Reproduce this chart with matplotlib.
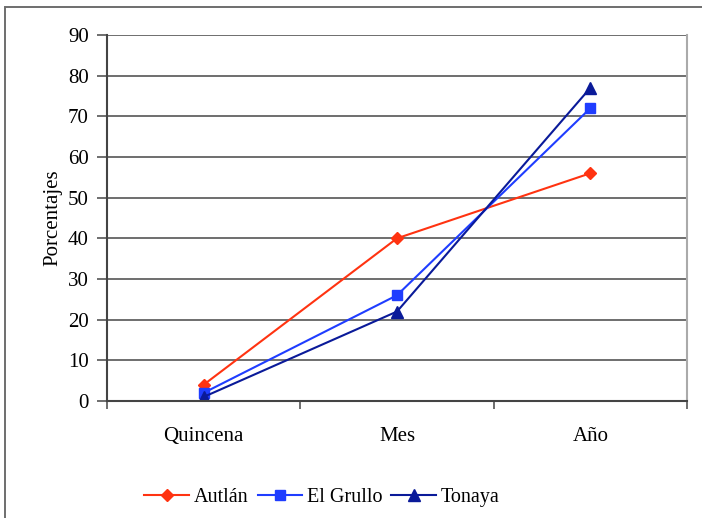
import matplotlib.pyplot as plt
from matplotlib.patches import Rectangle

plt.rcParams["font.family"] = "Liberation Serif"

# Periods and percentage of each town
periodos = ["Quincena", "Mes", "Año"]
autlan = [4, 40, 56]
el_grullo = [2, 26, 72]
tonaya = [1, 22, 77]

fig = plt.figure(figsize=(7.02, 5.18), dpi=100)
ax = fig.add_axes([107 / 702, 1 - 401 / 518, 580 / 702, 366 / 518])

# Outer chart frame (only top and left edges fall inside the image)
fig.patches.append(Rectangle((5 / 702, -0.1), 1.2, 1 - 7 / 518 + 0.1,
                             transform=fig.transFigure, fill=False,
                             edgecolor="#6e6e6e", linewidth=1.4))

x = range(len(periodos))
ax.plot(x, autlan, color="#ff3311", marker="D", markersize=6, linewidth=1.5,
        label="Autlán")
ax.plot(x, el_grullo, color="#1f3dff", marker="s", markersize=7, linewidth=1.5,
        label="El Grullo")
ax.plot(x, tonaya, color="#0a1a99", marker="^", markersize=8, linewidth=1.5,
        label="Tonaya")

ax.set_xlim(-0.5, 2.5)
ax.set_ylim(0, 90)
ax.set_yticks(range(0, 91, 10))
ax.set_xticks([-0.5, 0.5, 1.5, 2.5])
ax.set_xticklabels([])
ax.set_xticks(list(x), minor=True)
ax.set_xticklabels(periodos, minor=True, fontsize=15)
ax.tick_params(axis="x", which="minor", length=0, pad=19)
ax.tick_params(axis="x", which="major", direction="out", length=6,
               color="#555555", width=1.2)
ax.tick_params(axis="y", direction="out", length=7, color="#555555",
               width=1.2, labelsize=15, pad=6)

ax.grid(axis="y", color="#555555", linewidth=1.2)
ax.set_axisbelow(True)
for side in ["left", "bottom"]:
    ax.spines[side].set_color("#444444")
    ax.spines[side].set_linewidth(1.5)
ax.spines["top"].set_visible(False)
ax.spines["right"].set_color("#aaaaaa")
ax.spines["right"].set_linewidth(1.5)

ax.set_ylabel("Porcentajes", fontsize=15, labelpad=4)

fig.legend(loc="center", bbox_to_anchor=(322 / 702, 1 - 497 / 518), ncol=3,
           frameon=False, fontsize=14.5, handlelength=2.2, columnspacing=0.45,
           handletextpad=0.25, borderaxespad=0)

fig.savefig("out.png", dpi=100)
